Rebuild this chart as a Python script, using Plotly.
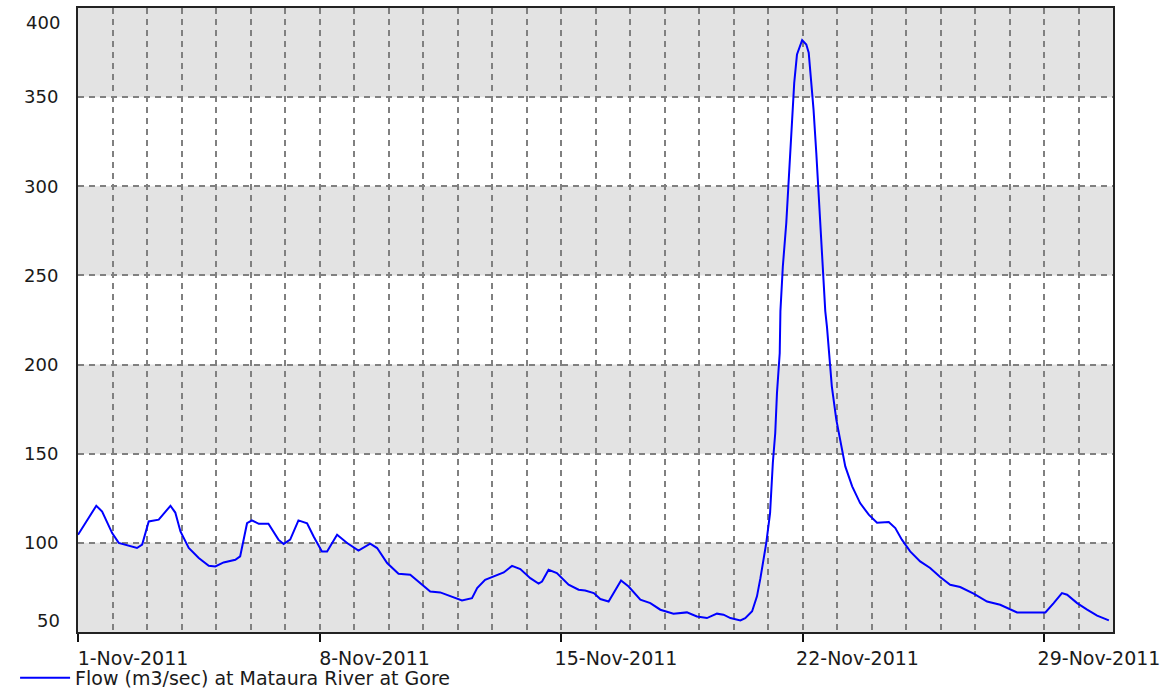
import pandas as pd
import plotly.graph_objects as go

# ---- data (days since 1-Nov-2011 00:00, flow m3/sec) ----
day_offset = [
    0.00, 0.21, 0.53, 0.70, 0.99, 1.18, 1.47, 1.71, 1.86, 2.05, 2.34, 2.68, 2.82, 2.97,
    3.21, 3.50, 3.79, 3.98, 4.22, 4.56, 4.70, 4.78, 4.90, 5.04, 5.24, 5.52, 5.81, 5.96,
    6.15, 6.39, 6.64, 6.83, 7.07, 7.22, 7.51, 7.80, 8.13, 8.47, 8.67, 8.96, 9.29, 9.63,
    9.92, 10.21, 10.50, 10.84, 11.13, 11.42, 11.57, 11.80, 12.05, 12.34, 12.58, 12.82,
    13.11, 13.35, 13.45, 13.64, 13.88, 14.22, 14.51, 14.70, 14.95, 15.14, 15.38, 15.52,
    15.74, 15.96, 16.30, 16.59, 16.88, 17.26, 17.65, 17.94, 18.23, 18.52, 18.71, 18.91,
    19.20, 19.34, 19.54, 19.68, 19.78, 19.95, 20.06, 20.14, 20.21, 20.26, 20.34, 20.36,
    20.43, 20.53, 20.60, 20.67, 20.71, 20.76, 20.84, 20.94, 20.99, 21.11, 21.18, 21.25,
    21.32, 21.40, 21.47, 21.52, 21.60, 21.66, 21.71, 21.76, 21.85, 21.98, 22.10, 22.24,
    22.44, 22.67, 22.92, 23.16, 23.50, 23.69, 23.88, 24.12, 24.41, 24.70, 24.99, 25.28,
    25.57, 25.96, 26.35, 26.73, 27.22, 27.70, 28.04, 28.28, 28.52, 28.67, 28.96, 29.25,
    29.54, 29.88,
]
flow = [
    104.5, 111.0, 120.8, 117.6, 105.5, 100.0, 98.4, 97.1, 99.0, 112.0, 113.0, 120.8, 117.0, 106.4,
    97.1, 91.5, 87.1, 86.8, 89.0, 90.5, 92.4, 99.9, 111.0, 112.6, 110.7, 110.7, 101.8, 99.4,
    101.8, 112.6, 111.0, 103.6, 95.2, 95.2, 104.5, 99.9, 95.7, 99.5, 97.1, 88.7, 82.7, 82.1,
    77.4, 72.7, 72.2, 70.0, 67.7, 69.0, 74.6, 79.3, 81.1, 83.4, 87.1, 85.3,
    80.2, 77.1, 78.3, 84.9, 83.1, 76.5, 73.7, 73.3, 71.8, 68.5, 67.1, 71.8,
    78.9, 75.5, 68.1, 66.2, 62.5, 60.3, 61.0, 58.7, 57.8, 60.3, 59.7, 57.8,
    56.5, 57.8, 61.6, 70.0, 80.2, 100.0, 116.7, 144.8, 161.6, 184.0, 206.5, 230.0,
    255.0, 279.4, 303.8, 324.4, 343.0, 358.0, 373.9, 379.5, 382.0, 379.5, 374.9, 359.0,
    343.0, 318.7, 294.4, 273.9, 251.4, 230.0, 221.0, 208.4, 187.8, 169.1, 157.9, 142.9,
    131.7, 122.3, 115.8, 111.3, 111.7, 108.3, 101.8, 95.2, 89.6, 85.9, 80.8, 76.5,
    75.2, 71.5, 67.1, 65.3, 61.0, 61.0, 61.0, 66.2, 71.8, 70.9, 66.2, 62.5,
    59.2, 56.5,
]
series_name = "Flow (m3/sec) at Mataura River at Gore"
start_date = "2011-11-01"
end_date = "2011-12-01"
y_range = [50, 400]
y_tick_vals = [100, 150, 200, 250, 300, 350]
y_edge_labels = [50, 400]
shaded_bands = [(50, 100), (150, 200), (250, 300), (350, 400)]

times = pd.Timestamp(start_date) + pd.to_timedelta(day_offset, unit="D")

FONT = "DejaVu Sans"
DAY_MS = 86400000
GRID = "#808080"

fig = go.Figure()
fig.add_trace(go.Scatter(
    x=times, y=flow, mode="lines", name=series_name,
    line=dict(color="#0000ff", width=2),
))

for y0, y1 in shaded_bands:
    fig.add_shape(type="rect", xref="x domain", yref="y", x0=0, x1=1, y0=y0, y1=y1,
                  fillcolor="#e3e3e3", line=dict(width=0), layer="below")

fig.add_annotation(x=0, xref="x domain", y=y_edge_labels[1], yref="y", text=str(y_edge_labels[1]),
                   showarrow=False, xanchor="right", yanchor="middle", xshift=-16, yshift=-14,
                   font=dict(family=FONT, size=18, color="#1a1a1a"))
fig.add_annotation(x=0, xref="x domain", y=y_edge_labels[0], yref="y", text=str(y_edge_labels[0]),
                   showarrow=False, xanchor="right", yanchor="middle", xshift=-16, yshift=12,
                   font=dict(family=FONT, size=18, color="#1a1a1a"))

fig.update_layout(
    width=1160, height=697,
    margin=dict(l=78, r=47, t=8, b=65, autoexpand=False),
    paper_bgcolor="white", plot_bgcolor="white",
    font=dict(family=FONT, size=18, color="#1a1a1a"),
    showlegend=True,
    legend=dict(orientation="h", xref="container", yref="container", x=0.013, y=0.0,
                xanchor="left", yanchor="bottom", bgcolor="rgba(0,0,0,0)", itemwidth=50,
                font=dict(family=FONT, size=19, color="#1a1a1a")),
    xaxis=dict(
        type="date", range=[start_date, end_date],
        tick0=start_date, dtick=7 * DAY_MS, tickformat="%-d-%b-%Y",
        ticks="outside", ticklen=8, tickwidth=1.5, tickcolor="#111",
        tickfont=dict(family=FONT, size=19, color="#1a1a1a"),
        ticklabelshift=55, ticklabeloverflow="allow", ticklabelstandoff=0,
        showgrid=True, gridcolor=GRID, griddash="6px,5px", gridwidth=1.5,
        minor=dict(dtick=DAY_MS, tick0=start_date, showgrid=True, gridcolor=GRID,
                   griddash="6px,5px", gridwidth=1.5, ticks=""),
        showline=True, linecolor="#222", linewidth=2, mirror=True,
        zeroline=False, automargin=False,
    ),
    yaxis=dict(
        range=y_range, tickvals=y_tick_vals, ticks="", ticklabelstandoff=14,
        showgrid=True, gridcolor=GRID, griddash="6px,5px", gridwidth=1.5,
        showline=True, linecolor="#222", linewidth=2, mirror=True,
        zeroline=False, automargin=False,
    ),
)

fig.write_html("out.html", config={"displayModeBar": False},
               post_script="document.body.style.margin='0';")
